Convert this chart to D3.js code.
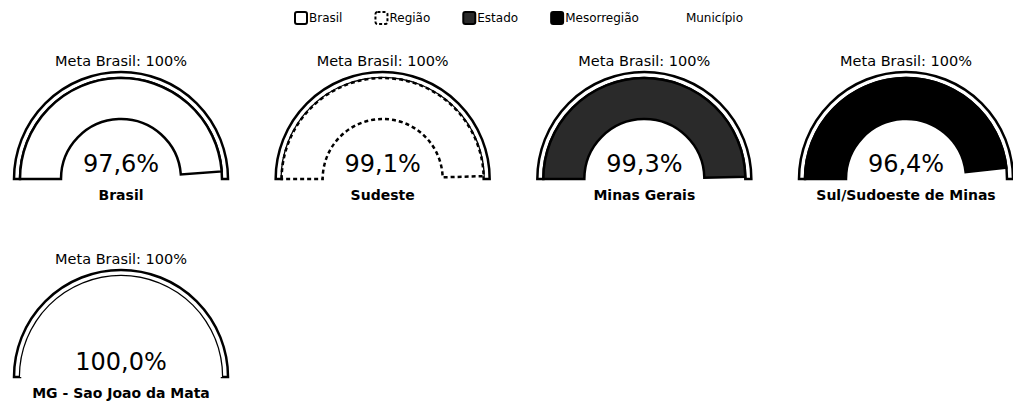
<!DOCTYPE html>
<html>
<head>
<meta charset="utf-8">
<script src="https://cdn.jsdelivr.net/npm/d3@7"></script>
<style>
  html, body { margin: 0; padding: 0; background: #fff; }
  svg { display: block; font-family: "DejaVu Sans", sans-serif; }
</style>
</head>
<body>
<svg id="chart" width="1013" height="405"></svg>
<script>
// ---- data ----
const levels = ["Brasil", "Região", "Estado", "Mesorregião", "Município"];
const gaugeNames = ["Brasil", "Sudeste", "Minas Gerais", "Sul/Sudoeste de Minas", "MG - Sao Joao da Mata"];
const gaugeLevels = ["Brasil", "Região", "Estado", "Mesorregião", "Município"];
const gaugeValues = [97.6, 99.1, 99.3, 96.4, 100.0];
const metaLabel = "Meta Brasil";
const metaValue = 100;

// ---- styles per level ----
const levelFill = { "Brasil": "#fff", "Região": "#fff", "Estado": "#2a2a2a", "Mesorregião": "#000", "Município": "#fff" };
const levelStroke = { "Brasil": "#000", "Região": "#000", "Estado": "#000", "Mesorregião": "#000", "Município": "none" };
const levelDash = { "Brasil": null, "Região": "4,3", "Estado": null, "Mesorregião": null, "Município": null };

const svg = d3.select("#chart");
const fmt = d3.formatLocale({ decimal: ",", thousands: ".", grouping: [3], currency: ["R$", ""] }).format(".1f");

// ---- legend ----
const legend = svg.append("g").attr("transform", "translate(295,18)");
let lx = 0;
levels.forEach(l => {
  const g = legend.append("g").attr("transform", `translate(${lx},0)`);
  g.append("rect").attr("x", 0).attr("y", -6).attr("width", 12).attr("height", 12).attr("rx", 2)
    .attr("fill", levelFill[l])
    .attr("stroke", levelStroke[l]).attr("stroke-width", 2)
    .attr("stroke-dasharray", levelDash[l] ? "3,2" : null);
  const t = g.append("text").attr("x", 14).attr("y", 0).attr("dy", "0.35em")
    .attr("font-size", 12).attr("fill", "#000").text(l);
  lx += 14 + t.node().getComputedTextLength() + 33;
});

// ---- gauges ----
const R = 107, band = 6, r = 60;
const angle = d3.scaleLinear().domain([0, metaValue]).range([-Math.PI / 2, Math.PI / 2]);
const colX = d3.scaleLinear().domain([0, 3]).range([121, 906]);
const rowY = d3.scaleLinear().domain([0, 1]).range([179, 377]);

const bgArc = d3.arc().innerRadius(R - band).outerRadius(R).startAngle(angle(0)).endAngle(angle(metaValue));
const valArc = d3.arc().innerRadius(r).outerRadius(R - band).startAngle(angle(0));

gaugeNames.forEach((name, i) => {
  const col = i % 4, row = Math.floor(i / 4);
  const g = svg.append("g").attr("transform", `translate(${colX(col)},${rowY(row)})`);
  const lvl = gaugeLevels[i];

  g.append("path").attr("d", bgArc()).attr("fill", "#fff").attr("stroke", "#000").attr("stroke-width", 2.5);
  g.append("path").attr("d", valArc.endAngle(angle(gaugeValues[i]))())
    .attr("fill", levelFill[lvl]).attr("stroke", levelStroke[lvl]).attr("stroke-width", 2.5)
    .attr("stroke-dasharray", levelDash[lvl]);

  g.append("text").attr("x", 0).attr("y", -113).attr("text-anchor", "middle")
    .attr("font-size", 14.5).attr("fill", "#000").text(`${metaLabel}: ${metaValue}%`);
  g.append("text").attr("x", 0).attr("y", -7).attr("text-anchor", "middle")
    .attr("font-size", 24).attr("fill", "#000").text(fmt(gaugeValues[i]) + "%");
  g.append("text").attr("x", 0).attr("y", 21).attr("text-anchor", "middle")
    .attr("font-size", 14).attr("font-weight", "bold").attr("fill", "#000").text(name);
});
</script>
</body>
</html>
